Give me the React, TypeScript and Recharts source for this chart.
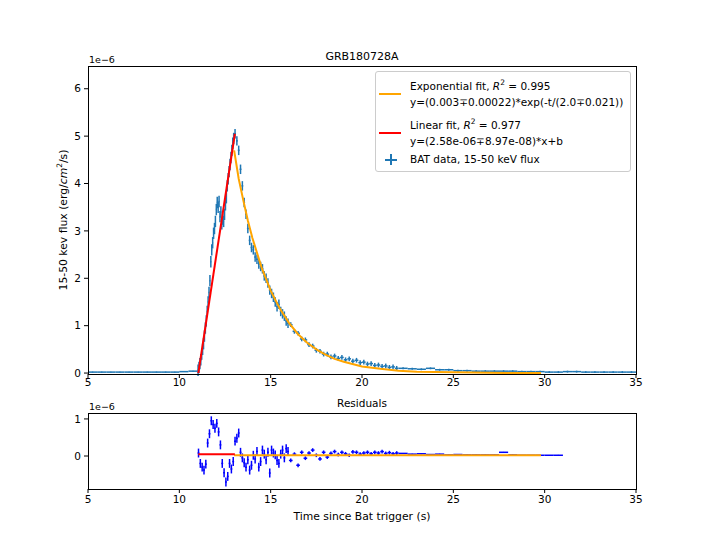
import React from "react";
import { ComposedChart, Scatter, XAxis, YAxis, ErrorBar } from "recharts";

// flux values in units of 1e-6 erg/cm^2/s
const preStart = 5.25;
const preStep = 0.5;
const preFlux = [0.02, 0.02, 0.02, 0.02, 0.02, 0.02, 0.02, 0.02, 0.02, 0.02, 0.03, 0.04];

const riseStart = 11.025;
const riseStep = 0.05;
const riseFlux = [
  0.06, 0.12, 0.2, 0.28, 0.4, 0.5, 0.62, 0.78, 0.95, 1.1,
  1.3, 1.5, 1.7, 1.95, 2.35, 2.6, 2.75, 2.95, 3.05, 3.2,
  3.45, 3.6, 3.5, 3.62, 3.3, 3.4, 3.15, 3.25, 3.2, 3.35,
  3.55, 3.7, 3.95, 4.1, 4.25, 4.4, 4.55, 4.7, 4.85, 4.95,
];

const decayStart = 13.05;
const decayStep = 0.1;
const decayFlux = [
  5.05, 4.9, 4.7, 4.3, 3.95, 3.6, 3.35, 3.05, 2.8, 2.65,
  2.6, 2.45, 2.4, 2.3, 2.25, 2.2, 2.05, 2.0, 1.9, 1.75,
  1.68, 1.6, 1.5, 1.4, 1.45, 1.3, 1.25, 1.2, 1.1, 1.05,
];

const tailStart = 16.1;
const tailStep = 0.2;
const tailFlux = [
  1.02, 0.88, 0.84, 0.72, 0.7, 0.6, 0.57, 0.48, 0.46, 0.4,
  0.4, 0.34, 0.36, 0.31, 0.33, 0.28, 0.3, 0.25, 0.27, 0.22,
  0.23, 0.19, 0.2, 0.16, 0.17, 0.14, 0.15, 0.12, 0.13, 0.1,
];

const lateStart = 22.25;
const lateStep = 0.5;
const lateFlux = [
  0.1, 0.09, 0.08, 0.1, 0.07, 0.07, 0.05, 0.05, 0.04, 0.04,
  0.04, 0.04, 0.04, 0.03, 0.03, 0.03, 0.02, 0.02, 0.03, 0.03,
  0.02, 0.02, 0.02, 0.02, 0.02, 0.02,
];

const fluxErr = [0.01, 0.12, 0.1, 0.05, 0.02]; // pre, rise, decay, tail, late

const expFitTime = [13.0, 13.25, 13.5, 13.75, 14.0, 14.5, 15.0, 15.5, 16.0, 16.5, 17.0, 17.5, 18.0, 18.5, 19.0, 20.0, 21.0, 22.0, 23.0, 24.0, 26.0, 28.0, 29.8];
const expFitFlux = [4.7, 4.1, 3.65, 3.22, 2.85, 2.23, 1.74, 1.36, 1.06, 0.82, 0.64, 0.5, 0.39, 0.3, 0.24, 0.14, 0.09, 0.05, 0.03, 0.02, 0.01, 0.0, 0.0];

const linFitTime = [11.04, 13.04];
const linFitFlux = [0.0, 5.05];

// residuals, same units
const residStart = 11.05;
const residStep = 0.1;
const riseResid = [
  0.08, -0.2, -0.3, -0.38, -0.22, 0.35, 0.6, 0.95, 0.85, 0.75,
  0.88, 0.65, 0.3, -0.2, -0.45, -0.7, -0.55, -0.2, -0.35, -0.15,
  0.4, 0.48, 0.62, 0.1, -0.05, -0.18, -0.3, -0.1, -0.38, -0.25,
  0.02, -0.08, 0.12, -0.3, -0.15, 0.16, 0.05, -0.1, 0.1, -0.46,
  0.16, 0.08, 0.03, -0.12, -0.2, 0.05, 0.16, -0.05, 0.2, 0.12,
];
const tailResid = [
  -0.12, 0.05, -0.25, 0.1, -0.06, 0.08, 0.16, 0.02, -0.08, 0.1,
  -0.03, 0.07, 0.12, 0.04, 0.1, 0.06, 0.02, 0.11, 0.1, 0.05,
  0.08, 0.1, 0.06, 0.1, 0.08, 0.12, 0.07, 0.09, 0.06, 0.08,
];
const lateResid = [0.07, 0.05, 0.06, 0.04, 0.05, 0.03, 0.04, 0.03, 0.03, 0.03, 0.03, 0.1, 0.03, 0.02, 0.02, 0.02, 0.02, 0.02];
const residErr = [0.12, 0.05, 0.01]; // rise, tail, late

const linResidTime = [11.04, 13.04];
const linResidLevel = [0.05, 0.05];
const expResidTime = [13.0, 29.8];
const expResidLevel = [0.02, 0.02];

const xTicks = [5, 10, 15, 20, 25, 30, 35];
const fluxTicks = [0, 1, 2, 3, 4, 5, 6];
const residTicks = [0, 1];

const bins = (start: number, step: number, values: number[], err: number) =>
  values.map((y, i) => ({ x: +(start + i * step).toFixed(3), y, ex: step / 2, ey: err }));

const pairs = (xs: number[], ys: number[]) => xs.map((x, i) => ({ x, y: ys[i] }));

const fluxPoints = [
  ...bins(preStart, preStep, preFlux, fluxErr[0]),
  ...bins(riseStart, riseStep, riseFlux, fluxErr[1]),
  ...bins(decayStart, decayStep, decayFlux, fluxErr[2]),
  ...bins(tailStart, tailStep, tailFlux, fluxErr[3]),
  ...bins(lateStart, lateStep, lateFlux, fluxErr[4]),
];

const residPoints = [
  ...bins(residStart, residStep, riseResid, residErr[0]),
  ...bins(tailStart, tailStep, tailResid, residErr[1]),
  ...bins(lateStart, lateStep, lateResid, residErr[2]),
];

const FONT = "'DejaVu Sans', sans-serif";
const tickStyle = { fontSize: 10.5, fill: "#000", fontFamily: FONT };
const noDot = () => <g />;

const text = (style: React.CSSProperties): React.CSSProperties => ({
  position: "absolute",
  fontFamily: FONT,
  fontSize: 10.5,
  color: "#000",
  whiteSpace: "nowrap",
  lineHeight: 1,
  ...style,
});

function Frame({ left, top, width, height }: { left: number; top: number; width: number; height: number }) {
  return (
    <div
      style={{
        position: "absolute",
        left,
        top,
        width,
        height,
        border: "1px solid #000",
        boxSizing: "border-box",
        pointerEvents: "none",
      }}
    />
  );
}

function Legend() {
  const row = (top: number, children: React.ReactNode) => (
    <div style={text({ left: 34, top: top - 6 })}>{children}</div>
  );
  return (
    <div
      style={{
        position: "absolute",
        left: 375,
        top: 71,
        width: 256,
        height: 101,
        border: "1px solid #ccc",
        borderRadius: 3,
        background: "rgba(255,255,255,0.8)",
        boxSizing: "border-box",
      }}
    >
      <div style={{ position: "absolute", left: 3, top: 21, width: 22, height: 2, background: "orange" }} />
      <div style={{ position: "absolute", left: 3, top: 60, width: 22, height: 2, background: "red" }} />
      <div style={{ position: "absolute", left: 14, top: 82, width: 1.5, height: 11, background: "#1f77b4" }} />
      <div style={{ position: "absolute", left: 9, top: 87, width: 12, height: 1.5, background: "#1f77b4" }} />
      {row(13, <>Exponential fit, <i>R</i><sup style={{ fontSize: 7.5 }}>2</sup> = 0.995</>)}
      {row(31, "y=(0.003∓0.00022)*exp(-t/(2.0∓0.021))")}
      {row(52, <>Linear fit, <i>R</i><sup style={{ fontSize: 7.5 }}>2</sup> = 0.977</>)}
      {row(70, "y=(2.58e-06∓8.97e-08)*x+b")}
      {row(88, "BAT data, 15-50 keV flux")}
    </div>
  );
}

export default function App() {
  return (
    <div style={{ position: "relative", width: 707, height: 550, background: "#fff", overflow: "hidden" }}>
      <style>{"body{margin:0}"}</style>

      <div style={{ position: "absolute", left: 0, top: 0 }}>
        <ComposedChart width={707} height={400} margin={{ top: 66, right: 71, bottom: 6, left: 0 }}>
          <XAxis
            type="number"
            dataKey="x"
            domain={[5, 35]}
            ticks={xTicks}
            interval={0}
            allowDataOverflow
            axisLine={false}
            tickLine={{ stroke: "#000" }}
            tickSize={4}
            tickMargin={1}
            tick={tickStyle}
            height={20}
          />
          <YAxis
            type="number"
            dataKey="y"
            domain={[-0.02, 6.48]}
            ticks={fluxTicks}
            interval={0}
            allowDataOverflow
            axisLine={false}
            tickLine={{ stroke: "#000" }}
            tickSize={4}
            tickMargin={3}
            tick={tickStyle}
            width={88}
          />
          <Scatter data={fluxPoints} fill="#1f77b4" shape={noDot} isAnimationActive={false}>
            <ErrorBar dataKey="ey" direction="y" width={0} stroke="#1f77b4" strokeWidth={1.5} isAnimationActive={false} />
            <ErrorBar dataKey="ex" direction="x" width={0} stroke="#1f77b4" strokeWidth={1.5} isAnimationActive={false} />
          </Scatter>
          <Scatter data={pairs(expFitTime, expFitFlux)} line={{ stroke: "orange", strokeWidth: 2 }} shape={noDot} isAnimationActive={false} />
          <Scatter data={pairs(linFitTime, linFitFlux)} line={{ stroke: "red", strokeWidth: 2 }} shape={noDot} isAnimationActive={false} />
        </ComposedChart>
      </div>

      <div style={{ position: "absolute", left: 0, top: 400 }}>
        <ComposedChart width={707} height={150} margin={{ top: 13, right: 71, bottom: 41, left: 0 }}>
          <XAxis
            type="number"
            dataKey="x"
            domain={[5, 35]}
            ticks={xTicks}
            interval={0}
            allowDataOverflow
            axisLine={false}
            tickLine={{ stroke: "#000" }}
            tickSize={4}
            tickMargin={3}
            tick={tickStyle}
            height={20}
          />
          <YAxis
            type="number"
            dataKey="y"
            domain={[-0.89, 1.16]}
            ticks={residTicks}
            interval={0}
            allowDataOverflow
            axisLine={false}
            tickLine={{ stroke: "#000" }}
            tickSize={4}
            tickMargin={3}
            tick={tickStyle}
            width={88}
          />
          <Scatter data={residPoints} fill="blue" shape={noDot} isAnimationActive={false}>
            <ErrorBar dataKey="ey" direction="y" width={0} stroke="blue" strokeWidth={1.5} isAnimationActive={false} />
            <ErrorBar dataKey="ex" direction="x" width={0} stroke="blue" strokeWidth={1.5} isAnimationActive={false} />
          </Scatter>
          <Scatter data={pairs(expResidTime, expResidLevel)} line={{ stroke: "orange", strokeWidth: 2 }} shape={noDot} isAnimationActive={false} />
          <Scatter data={pairs(linResidTime, linResidLevel)} line={{ stroke: "red", strokeWidth: 2 }} shape={noDot} isAnimationActive={false} />
        </ComposedChart>
      </div>

      <Frame left={88} top={66} width={549} height={309} />
      <Frame left={88} top={413} width={549} height={77} />

      <div style={text({ left: 0, width: 724, top: 51, textAlign: "center", fontSize: 11 })}>GRB180728A</div>
      <div style={text({ left: 89, top: 55, fontSize: 9.5 })}>1e−6</div>
      <div style={text({ left: 89, top: 402, fontSize: 9.5 })}>1e−6</div>
      <div style={text({ left: 0, width: 724, top: 398, textAlign: "center" })}>Residuals</div>
      <div style={text({ left: 0, width: 724, top: 512, textAlign: "center", fontSize: 10.8 })}>Time since Bat trigger (s)</div>
      <div
        style={text({
          left: 63,
          top: 220,
          fontSize: 10.8,
          transform: "translate(-50%, -50%) rotate(-90deg)",
        })}
      >
        15-50 kev flux (erg/<i>cm</i>
        <sup style={{ fontSize: 7.5 }}>2</sup>/s)
      </div>

      <Legend />
    </div>
  );
}
